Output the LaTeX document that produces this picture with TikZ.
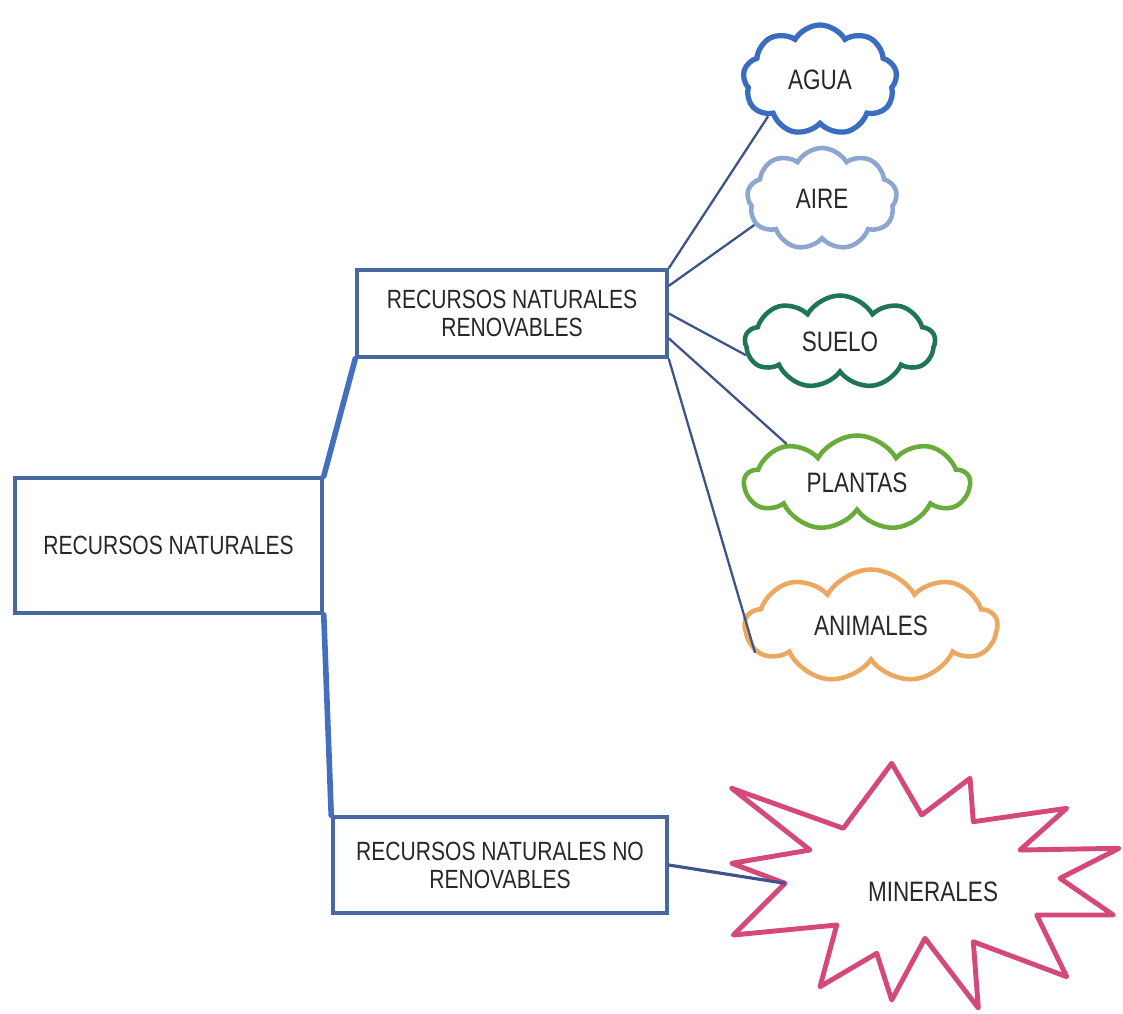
\documentclass[tikz,border=0pt]{standalone}
\usepackage{fontspec}
\setmainfont[FakeStretch=0.8]{Liberation Sans}
\usepackage{tikz}
\usepackage{xcolor}
\usetikzlibrary{shapes.symbols}

\definecolor{boxblue}{RGB}{72,104,160}
\definecolor{mainblue}{RGB}{68,110,190}
\definecolor{twigblue}{RGB}{60,84,136}
\definecolor{txtgrey}{RGB}{40,40,40}
\definecolor{aguablue}{RGB}{58,108,192}
\definecolor{aireblue}{RGB}{140,166,208}
\definecolor{suelogreen}{RGB}{30,118,84}
\definecolor{plantgreen}{RGB}{106,172,60}
\definecolor{animorange}{RGB}{236,168,96}
\definecolor{minpink}{RGB}{212,72,122}

\begin{document}
\begin{tikzpicture}[
  x=0.2mm, y=-0.2mm,
  box/.style={draw=boxblue, line width=2pt, align=center, inner sep=0pt, text=txtgrey, font=\fontsize{15}{16}\selectfont},
  cloudy/.style={cloud, cloud puffs=9, cloud puff arc=120, cloud ignores aspect, draw=#1, line width=2.6pt, inner sep=0pt, text=txtgrey, font=\fontsize{16}{18}\selectfont},
  branch/.style={draw=mainblue, line width=3.2pt, line cap=round},
  twig/.style={draw=twigblue, line width=1.3pt}
]
\useasboundingbox (0,0) rectangle (1123,1013);

\node[box, minimum width=61.4mm, minimum height=27mm] (recnat) at (168.5,545.5) {RECURSOS NATURALES};
\node[box, minimum width=62mm, minimum height=17.4mm] (renov) at (512,313.5) {RECURSOS NATURALES\\RENOVABLES};
\node[box, minimum width=66.8mm, minimum height=19.2mm] (norenov) at (500,865) {RECURSOS NATURALES NO\\RENOVABLES};

\draw[branch] (recnat.north east) -- (renov.south west);
\draw[branch] (recnat.south east) -- (norenov.north west);

\node[cloudy=aguablue, line width=3pt, minimum width=30.8mm, minimum height=22mm] (agua) at (820,80) {AGUA};
\node[cloudy=aireblue, minimum width=30mm, minimum height=20.4mm] (aire) at (822,199) {AIRE};
\node[cloudy=suelogreen, minimum width=38mm, minimum height=18.6mm] (suelo) at (840,342) {SUELO};
\node[cloudy=plantgreen, minimum width=45mm, minimum height=19mm] (plantas) at (857,483) {PLANTAS};
\node[cloudy=animorange, minimum width=50.4mm, minimum height=22.6mm] (animales) at (871,626) {ANIMALES};

\draw[twig] (renov.north east) -- (agua.215);
\draw[twig] (renov.10) -- (aire.201);
\draw[twig] (renov.east) -- (suelo.188);
\draw[twig] (renov.-9) -- (plantas.151);
\draw[twig] (renov.south east) -- (animales.193);

\draw[draw=minpink, line width=2.8pt, line join=round]
  (731.7,788.3) -- (843.3,828.3) -- (891.7,763.3) -- (921.7,815) -- (970,778.3)
  -- (973.3,821.7) -- (1066.7,808.3) -- (1020,850) -- (1119,848.3) -- (1060,878.3)
  -- (1113.3,915) -- (1036.7,915) -- (1066.7,976.7) -- (973.3,941.7) -- (978.3,1008)
  -- (925,938.3) -- (891.7,1000) -- (876.7,953.3) -- (820,986.7) -- (836.7,925)
  -- (733.3,935) -- (785,883.3) coordinate (minpt) -- (731.7,863.3) -- (810,850) -- cycle;
\node[text=txtgrey, font=\fontsize{16}{18}\selectfont] (minerales) at (933,892) {MINERALES};

\draw[twig, line width=1.8pt] (norenov.east) -- (minpt);
\end{tikzpicture}
\end{document}
